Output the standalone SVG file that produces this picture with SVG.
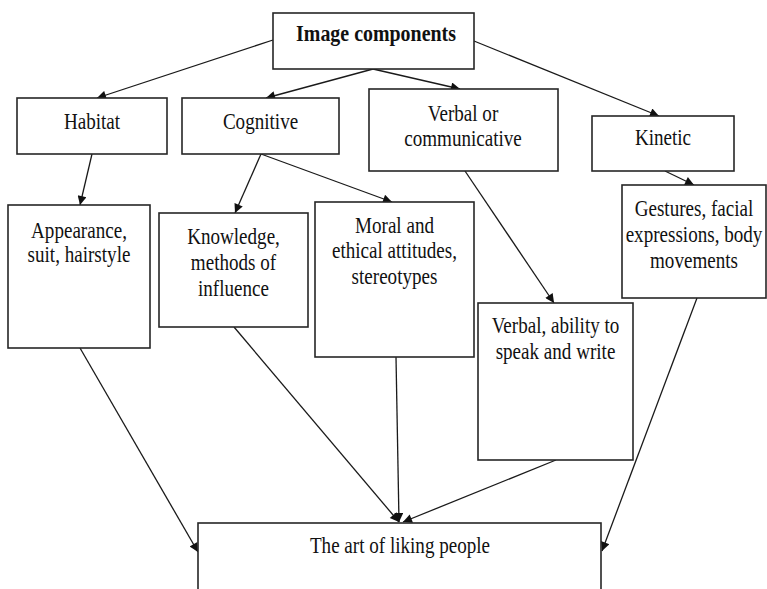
<svg xmlns="http://www.w3.org/2000/svg" width="767" height="589" viewBox="0 0 767 589">
<style>
.box{fill:#fff;stroke:#262626;stroke-width:1.6}
.ln{stroke:#1a1a1a;stroke-width:1.3;fill:none;marker-end:url(#ah)}
.t{font-family:'Liberation Serif','Times New Roman',serif;font-size:23px;fill:#111;text-anchor:middle}
.b{font-weight:bold;font-size:24px}
</style>
<defs>
<marker id="ah" viewBox="0 0 10 10" refX="10" refY="5" markerWidth="11" markerHeight="9" markerUnits="userSpaceOnUse" orient="auto">
<path d="M0,0 L10,5 L0,10 z" fill="#111"/>
</marker>
</defs>
<rect width="767" height="589" fill="#fff"/>
<g id="connectors">
<line class="ln" x1="273" y1="40" x2="97" y2="98"/>
<line class="ln" x1="373" y1="69" x2="266" y2="98"/>
<line class="ln" x1="373" y1="69" x2="460" y2="89"/>
<line class="ln" x1="474" y1="41" x2="659" y2="116"/>
<line class="ln" x1="92" y1="154" x2="80" y2="205"/>
<line class="ln" x1="261" y1="154" x2="235" y2="213"/>
<line class="ln" x1="261" y1="154" x2="392" y2="202"/>
<line class="ln" x1="465" y1="171" x2="554" y2="303"/>
<line class="ln" x1="665" y1="171" x2="694" y2="185"/>
<line class="ln" x1="80" y1="348" x2="198" y2="552"/>
<line class="ln" x1="234" y1="327" x2="399" y2="522"/>
<line class="ln" x1="396" y1="357" x2="399" y2="522"/>
<line class="ln" x1="556" y1="460" x2="403" y2="522"/>
<line class="ln" x1="697" y1="298" x2="602" y2="551"/>
</g>
<g id="n-top">
<rect class="box" x="273" y="13" width="201" height="56"/>
<g transform="translate(376,41) scale(0.83,1)"><text class="t b" x="0" y="0">Image components</text></g>
</g>
<g id="n-habitat">
<rect class="box" x="17" y="98" width="150" height="56"/>
<g transform="translate(92,129) scale(0.83,1)"><text class="t" x="0" y="0">Habitat</text></g>
</g>
<g id="n-cognitive">
<rect class="box" x="182" y="98" width="157" height="56"/>
<g transform="translate(260.5,129) scale(0.83,1)"><text class="t" x="0" y="0">Cognitive</text></g>
</g>
<g id="n-verbal">
<rect class="box" x="369" y="89" width="189" height="82"/>
<g transform="translate(463,0) scale(0.83,1)"><text class="t" x="0" y="121">Verbal or</text><text class="t" x="0" y="146">communicative</text></g>
</g>
<g id="n-kinetic">
<rect class="box" x="592" y="116" width="142" height="55"/>
<g transform="translate(663,145) scale(0.83,1)"><text class="t" x="0" y="0">Kinetic</text></g>
</g>
<g id="n-appearance">
<rect class="box" x="8" y="205" width="142" height="143"/>
<g transform="translate(79,0) scale(0.83,1)"><text class="t" x="0" y="238">Appearance,</text><text class="t" x="0" y="262">suit, hairstyle</text></g>
</g>
<g id="n-knowledge">
<rect class="box" x="159" y="213" width="149" height="114"/>
<g transform="translate(233.5,0) scale(0.83,1)"><text class="t" x="0" y="244">Knowledge,</text><text class="t" x="0" y="270">methods of</text><text class="t" x="0" y="296">influence</text></g>
</g>
<g id="n-moral">
<rect class="box" x="315" y="202" width="159" height="155"/>
<g transform="translate(394.5,0) scale(0.83,1)"><text class="t" x="0" y="233">Moral and</text><text class="t" x="0" y="258">ethical attitudes,</text><text class="t" x="0" y="284">stereotypes</text></g>
</g>
<g id="n-verbal-ability">
<rect class="box" x="478" y="303" width="155" height="157"/>
<g transform="translate(555.5,0) scale(0.83,1)"><text class="t" x="0" y="333">Verbal, ability to</text><text class="t" x="0" y="359">speak and write</text></g>
</g>
<g id="n-gestures">
<rect class="box" x="622" y="185" width="144" height="113"/>
<g transform="translate(694,0) scale(0.83,1)"><text class="t" x="0" y="216">Gestures, facial</text><text class="t" x="0" y="242">expressions, body</text><text class="t" x="0" y="268">movements</text></g>
</g>
<g id="n-art">
<rect class="box" x="198" y="523" width="403" height="100"/>
<g transform="translate(400,553) scale(0.83,1)"><text class="t" x="0" y="0">The art of liking people</text></g>
</g>
</svg>
